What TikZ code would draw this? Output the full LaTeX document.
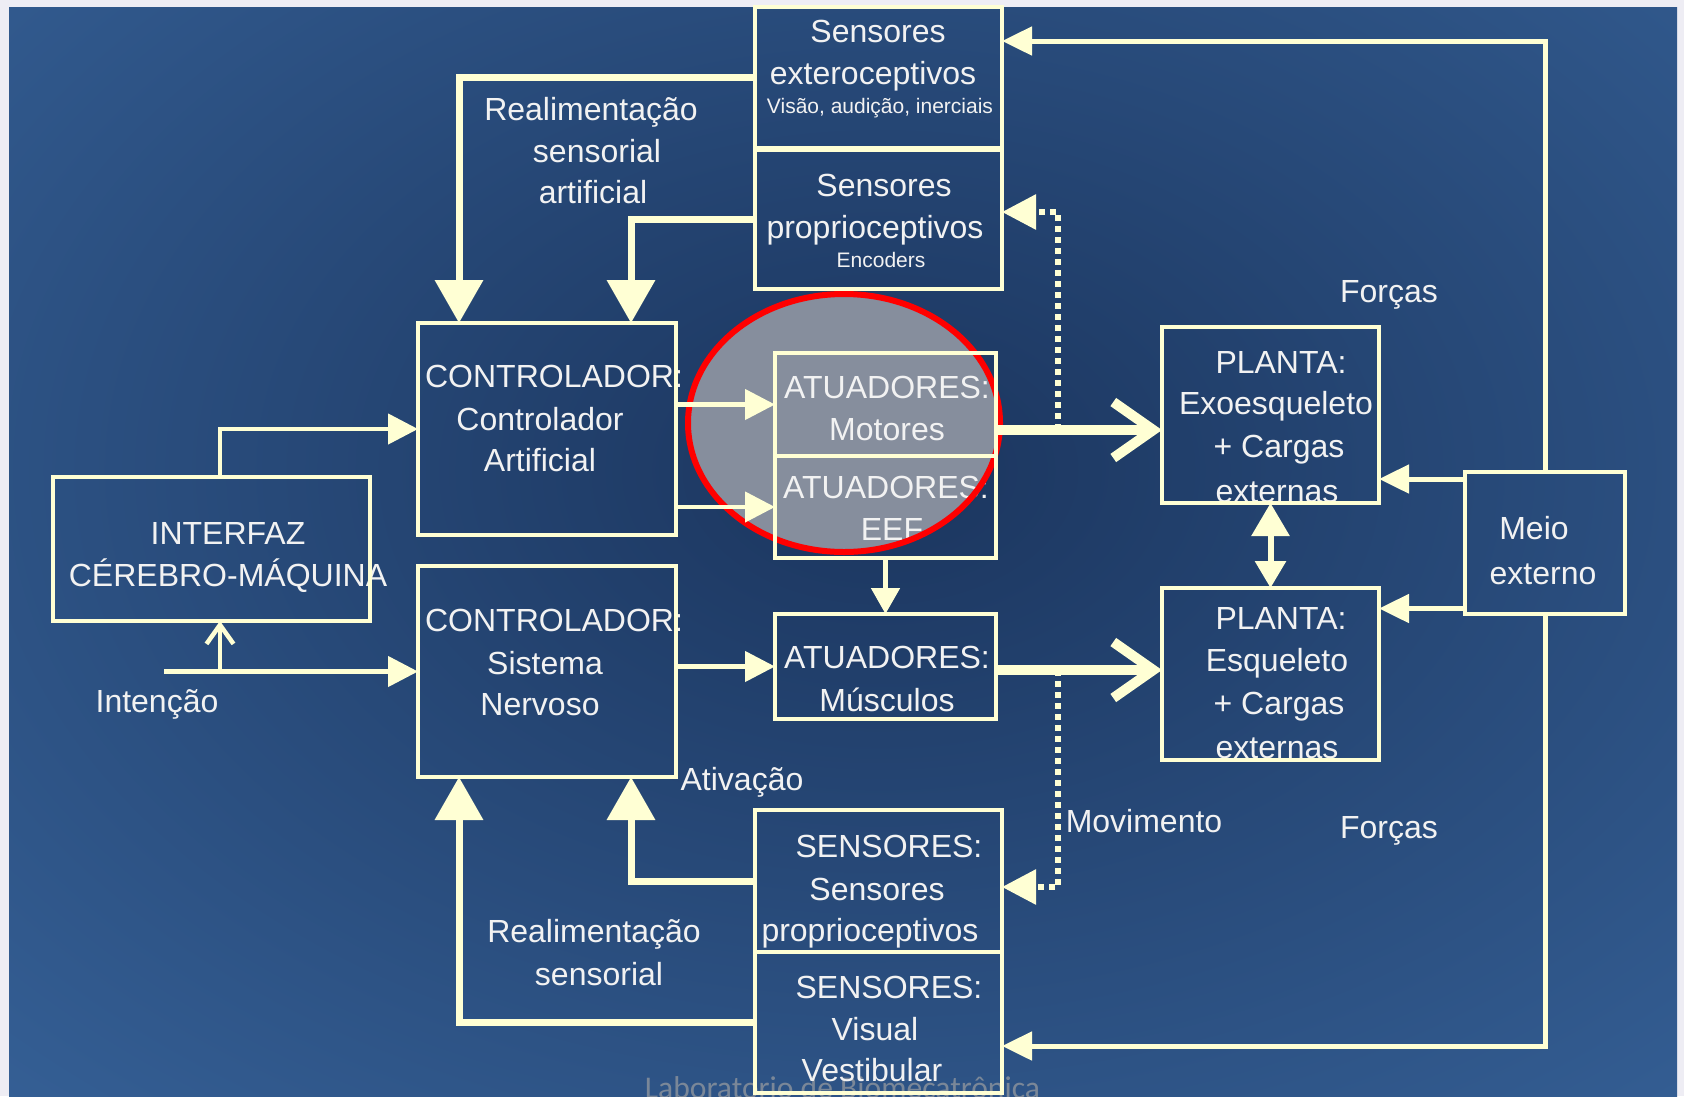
\documentclass[tikz,border=0pt]{standalone}
\usepackage{fontspec}
\setmainfont{Liberation Sans}
\newfontfamily\wmfont{Carlito}
\usetikzlibrary{arrows.meta,fit}
\definecolor{pagebg}{HTML}{EEEDF4}
\definecolor{bgin}{HTML}{1B355E}
\definecolor{bgout}{HTML}{37639A}
\definecolor{cream}{HTML}{FFFFD4}
\definecolor{txtc}{HTML}{F2F2F2}
\definecolor{elfill}{HTML}{868E9D}
\definecolor{wmc}{HTML}{7A8798}
\begin{document}
\begin{tikzpicture}[x=1pt,y=-1pt,
  box/.style={draw=cream, line width=4.5pt, inner sep=0pt, outer sep=0pt},
  lbl/.style={text=txtc, font=\fontsize{32}{38}\selectfont, inner sep=0pt, anchor=base},
  small/.style={text=txtc, font=\fontsize{21}{25}\selectfont, inner sep=0pt, anchor=base},
  fb/.style={draw=cream, line width=7pt, -{Triangle[length=43pt,width=47pt]}},
  link/.style={draw=cream, line width=4.5pt, -{Triangle[length=30pt,width=30pt]}},
  env/.style={draw=cream, line width=5pt, -{Triangle[length=30pt,width=28pt]}},
  push/.style={draw=cream, line width=10pt, -{Straight Barb[length=40pt,width=56pt]}},
  sense/.style={draw=cream, line width=6pt, dash pattern=on 6pt off 5pt, -{Triangle[length=34pt,width=34pt]}},
]
\useasboundingbox (0,0) rectangle (1684,1096);

% slide background
\fill[pagebg] (0,0) rectangle (1684,1096);
\begin{scope}
  \clip (9,7) rectangle (1677,1096);
  \shade[inner color=bgin, outer color=bgout] (880,470) ellipse [x radius=1400, y radius=950];
\end{scope}

% footer
\node[anchor=base, text=wmc, font=\wmfont\fontsize{31.6}{36}\selectfont, inner sep=0pt] (wm) at (842.5,1098) {Laboratorio de Biomecatrônica};

% highlighted actuator group (fill)
\fill[elfill] (844,423) ellipse [x radius=156, y radius=129];

% labels
\node[lbl] (l1) at (878,42) {Sensores};
\node[lbl] (l2) at (873,84) {exteroceptivos};
\node[small] (l3) at (880,113) {Visão, audição, inerciais};
\node[lbl] (l4) at (884,196) {Sensores};
\node[lbl] (l5) at (875,238) {proprioceptivos};
\node[small] (l6) at (881,267) {Encoders};

\node[lbl] (l7) at (591,120) {Realimentação};
\node[lbl] (l8) at (597,162) {sensorial};
\node[lbl] (l9) at (593,203) {artificial};

\node[lbl] (l10) at (554,387) {CONTROLADOR:};
\node[lbl] (l11) at (540,430) {Controlador};
\node[lbl] (l12) at (540,471) {Artificial};

\node[lbl] (l13) at (228,544) {INTERFAZ};
\node[lbl] (l14) at (228,586) {CÉREBRO-MÁQUINA};

\node[lbl] (l15) at (554,631) {CONTROLADOR:};
\node[lbl] (l16) at (545,674) {Sistema};
\node[lbl] (l17) at (540,715) {Nervoso};

\node[lbl] (l18) at (157,712) {Intenção};
\node[lbl] (l19) at (742,790) {Ativação};

\node[lbl] (l20) at (887,398) {ATUADORES:};
\node[lbl] (l21) at (887,440) {Motores};
\node[lbl] (l22) at (886,498) {ATUADORES:};
\node[lbl] (l23) at (892,540) {EEF};
\node[lbl] (l24) at (887,668) {ATUADORES:};
\node[lbl] (l25) at (887,711) {Músculos};

\node[lbl] (l26) at (889,857) {SENSORES:};
\node[lbl] (l27) at (877,900) {Sensores};
\node[lbl] (l28) at (870,941) {proprioceptivos};
\node[lbl] (l29) at (889,998) {SENSORES:};
\node[lbl] (l30) at (875,1040) {Visual};
\node[lbl] (l31) at (872,1081) {Vestibular};

\node[lbl] (l32) at (594,942) {Realimentação};
\node[lbl] (l33) at (599,985) {sensorial};

\node[lbl] (l34) at (1144,832) {Movimento};
\node[lbl] (l35) at (1389,302) {Forças};
\node[lbl] (l36) at (1389,838) {Forças};

\node[lbl] (l37) at (1281,373) {PLANTA:};
\node[lbl] (l38) at (1276,414) {Exoesqueleto};
\node[lbl] (l39) at (1279,457) {+ Cargas};
\node[lbl] (l40) at (1277,502) {externas};
\node[lbl] (l41) at (1281,629) {PLANTA:};
\node[lbl] (l42) at (1277,671) {Esqueleto};
\node[lbl] (l43) at (1279,714) {+ Cargas};
\node[lbl] (l44) at (1277,758) {externas};

\node[lbl] (l45) at (1534,539) {Meio};
\node[lbl] (l46) at (1543,584) {externo};

% highlighted actuator group (outline)
\draw[red, line width=6pt] (844,423) ellipse [x radius=156, y radius=129];

% blocks
\node[box, fit={(755,7)(1002,148)}] (sext) {};
\node[box, fit={(755,150)(1002,289)}] (sprop) {};
\node[box, fit={(418,323)(676,535)}] (ca) {};
\node[box, fit={(53,477)(370,621)}] (bci) {};
\node[box, fit={(418,566)(676,777)}] (csn) {};
\node[box, fit={(775,353)(996,456)}] (mot) {};
\node[box, fit={(775,456)(996,558)}] (eef) {};
\node[box, fit={(775,614)(996,719)}] (mus) {};
\node[box, fit={(755,810)(1002,952)}] (sensp) {};
\node[box, fit={(755,952)(1002,1093)}] (vis) {};
\node[box, fit={(1162,327)(1379,503)}] (pexo) {};
\node[box, fit={(1162,588)(1379,760)}] (pesq) {};
\node[box, fit={(1465,472)(1625,614)}] (meio) {};

% helper coordinates for routing
\coordinate (xL) at (459,0);
\coordinate (xR) at (631,0);
\coordinate (int) at (164,671.5);
\coordinate (intup) at (220,671.5);
\coordinate (mo) at (0,430);
\coordinate (mu) at (0,670);
\coordinate (dtop) at (1058,212);
\coordinate (dbot) at (1058,887);
\coordinate (m1) at (0,479);
\coordinate (m2) at (0,608.5);
\coordinate (etop) at (0,41);
\coordinate (ebot) at (0,1046);

% artificial sensory feedback
\draw[fb] (sext.west) -| (ca.north -| xL);
\draw[fb] (sprop.west) -| (ca.north -| xR);

% commands
\draw[link] ([xshift=8.5pt]bci.north) |- (ca.west);
\draw[link] (ca.east |- mot.west) -- (mot.west);
\draw[link] (ca.east |- eef.west) -- (eef.west);
\draw[link] (int) -- (csn.west);
\draw[draw=cream, line width=4.5pt, -{Straight Barb[length=19pt,width=27pt]}] (intup) -- (bci.south -| intup);
\draw[link] (csn.east |- mus.west) -- (mus.west);
\draw[draw=cream, line width=5pt, -{Triangle[length=26pt,width=28pt]}] (eef.south) -- (mus.north);

% actuation on the plants
\draw[push] (mot.east |- mo) -- (pexo.west |- mo);
\draw[push] (mus.east |- mu) -- (pesq.west |- mu);

% motion sensed
\draw[sense] (dtop |- mo) -- (dtop) -- (sprop.east |- dtop);
\draw[sense] (dbot |- mu) -- (dbot) -- (sensp.east |- dbot);

% coupling between plants
\draw[draw=cream, line width=6pt, {Triangle[length=33pt,width=37pt]}-{Triangle[length=27pt,width=30pt]}] (pexo.south) -- (pesq.north);

% environment
\draw[env] (meio.west |- m1) -- (pexo.east |- m1);
\draw[env] (meio.west |- m2) -- (pesq.east |- m2);
\draw[env] (meio.north) |- (sext.east |- etop);
\draw[env] (meio.south) |- (vis.east |- ebot);

% sensory feedback
\draw[fb] (sensp.west) -| (csn.south -| xR);
\draw[fb] (vis.west) -| (csn.south -| xL);
\end{tikzpicture}
\end{document}
